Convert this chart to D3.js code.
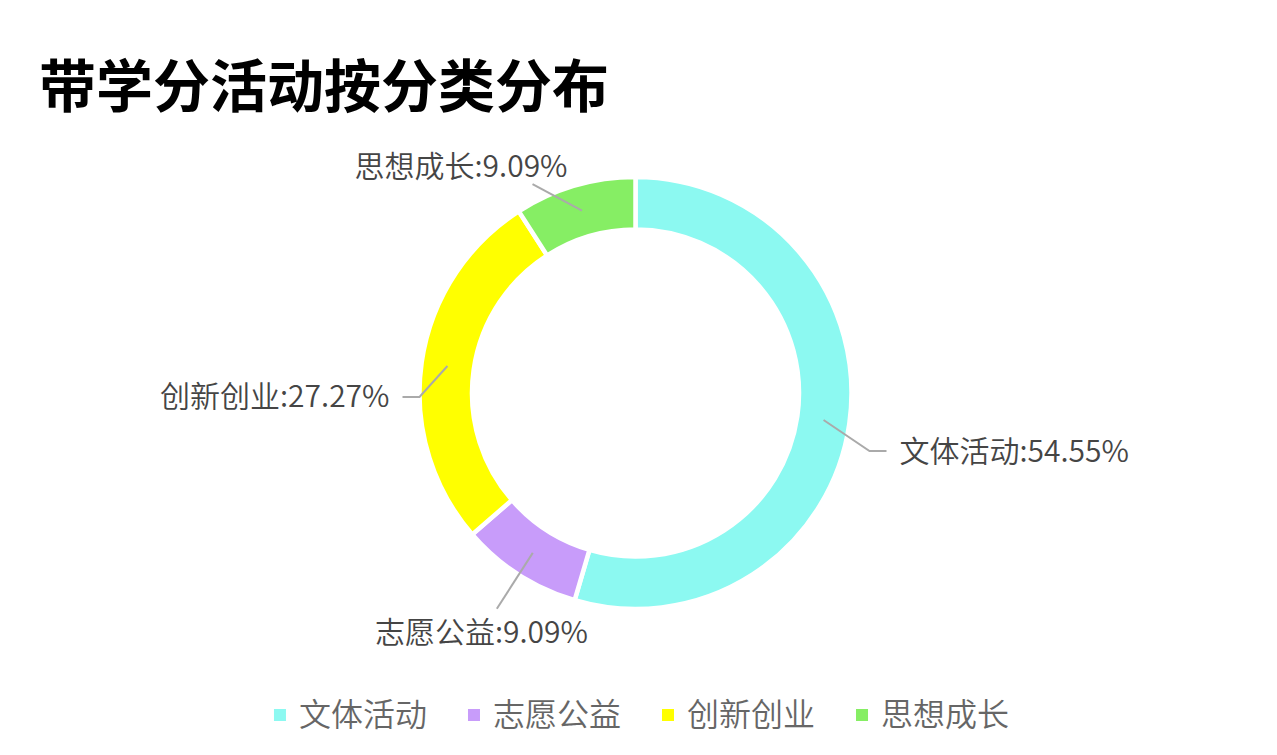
<!DOCTYPE html>
<html>
<head>
<meta charset="utf-8">
<script src="https://cdn.jsdelivr.net/npm/d3@7"></script>
<style>
  body { margin: 0; background: #fff; }
  svg { display: block; font-family: "Noto Sans CJK SC", "Noto Sans", sans-serif; }
</style>
</head>
<body>
<div id="chart"></div>
<script>
// chart data
const categories = ['文体活动', '志愿公益', '创新创业', '思想成长'];
const counts = [6, 1, 3, 1];
const percentLabels = ['54.55%', '9.09%', '27.27%', '9.09%'];
const colors = ['#8cf9f1', '#c89cfa', '#ffff00', '#86ee64'];
const title = '带学分活动按分类分布';

const width = 1277, height = 755;
const cx = 635.5, cy = 393;
const outerR = 216, innerR = 163.5;

const svg = d3.select('#chart').append('svg')
  .attr('width', width)
  .attr('height', height);

// title
svg.append('text')
  .attr('x', 39)
  .attr('y', 107)
  .attr('font-size', '57px')
  .attr('font-weight', 'bold')
  .attr('fill', '#000')
  .text(title);

const data = categories.map((c, i) => ({ name: c, value: counts[i], pct: percentLabels[i], color: colors[i] }));

const pie = d3.pie().sort(null).value(d => d.value);
const arcs = pie(data);
const arc = d3.arc().innerRadius(innerR).outerRadius(outerR);

const g = svg.append('g').attr('transform', `translate(${cx},${cy})`);

g.selectAll('path.slice')
  .data(arcs)
  .enter()
  .append('path')
  .attr('class', 'slice')
  .attr('d', arc)
  .attr('fill', d => d.data.color)
  .attr('stroke', '#fff')
  .attr('stroke-width', 4.5);

// label layout
const lineStartR = 190;   // leader line starts mid-ring
const sideShift = 9;      // side labels sit slightly right of the ring centre
const sideBendX = 225;    // side labels: bend distance from centre
const sideDrop = 31;      // side labels: first segment drop
const sideSeg = 17, sideGap = 13;
const labelR = 266;       // top/bottom labels: text box distance
const topLimit = 150 - cy; // keep labels under the title
const halfH = 16;

const labels = g.append('g');
const lineLayer = labels.append('g');
const line = d3.line();

arcs.forEach(d => {
  const a0 = (d.startAngle + d.endAngle) / 2;
  const p0 = [lineStartR * Math.sin(a0), -lineStartR * Math.cos(a0)];
  const text = labels.append('text')
    .attr('font-size', '30px')
    .attr('font-weight', 350)
    .attr('fill', '#454545')
    .attr('dy', '0.35em')
    .text(`${d.data.name}:${d.data.pct}`);
  const halfW = text.node().getComputedTextLength() / 2;

  if (Math.abs(Math.sin(a0)) > 0.7) {
    const dir = Math.sin(a0) > 0 ? 1 : -1;
    const bend = [sideShift + dir * sideBendX, p0[1] + sideDrop];
    const end = [bend[0] + dir * sideSeg, bend[1]];
    text.attr('x', end[0] + dir * sideGap)
      .attr('y', end[1])
      .attr('text-anchor', dir > 0 ? 'start' : 'end');
    lineLayer.append('path').attr('d', line([p0, bend, end]));
  } else {
    // place text box outside the ring along the angle, slide it down if it hits the title
    const centreAt = a => {
      const ux = Math.sin(a), uy = -Math.cos(a);
      const t = Math.min(halfW / Math.max(Math.abs(ux), 1e-6), halfH / Math.max(Math.abs(uy), 1e-6));
      return [(labelR + t) * ux, (labelR + t) * uy];
    };
    let a = a0, c = centreAt(a);
    const step = (Math.sin(a0) < 0 ? -1 : 1) * (Math.cos(a0) > 0 ? 1 : -1) * 0.005;
    while (c[1] - halfH < topLimit) { a += step; c = centreAt(a); }
    text.attr('x', c[0]).attr('y', c[1]).attr('text-anchor', 'middle');
    const up = -Math.cos(a0) < 0;
    const endY = up ? c[1] + halfH + 2 : c[1] - halfH - 8;
    const ux = Math.sin(a0), uy = -Math.cos(a0);
    let endX = p0[0] + ux * (endY - p0[1]) / uy;
    endX = Math.max(c[0] - halfW + 10, Math.min(c[0] + halfW - 35, endX));
    lineLayer.append('path').attr('d', line([p0, [endX, endY]]));
  }
});

lineLayer.selectAll('path')
  .attr('fill', 'none')
  .attr('stroke', '#aaaaaa')
  .attr('stroke-width', 2);

// legend
const legend = svg.append('g');
const sq = 12, gapText = 13, gapItem = 41, legendY = 715;
let lx = 0;
data.forEach(d => {
  const item = legend.append('g').attr('transform', `translate(${lx},0)`);
  item.append('rect')
    .attr('x', 0)
    .attr('y', legendY - sq / 2)
    .attr('width', sq)
    .attr('height', sq)
    .attr('fill', d.color);
  const t = item.append('text')
    .attr('x', sq + gapText)
    .attr('y', legendY)
    .attr('dy', '0.35em')
    .attr('font-size', '32px')
    .attr('font-weight', 350)
    .attr('fill', '#666')
    .text(d.name);
  lx += sq + gapText + t.node().getComputedTextLength() + gapItem;
});
const totalW = lx - gapItem;
legend.attr('transform', `translate(${641.5 - totalW / 2},0)`);
</script>
</body>
</html>
